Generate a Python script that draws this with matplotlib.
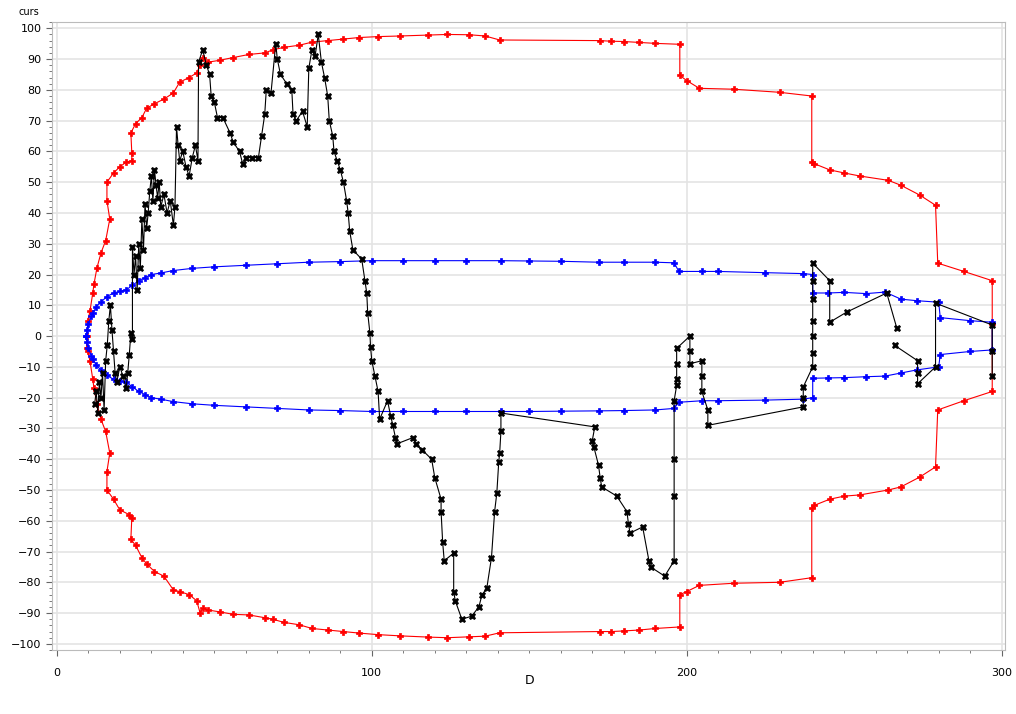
import numpy as np
import matplotlib
matplotlib.use('Agg')
import matplotlib.pyplot as plt
from matplotlib.ticker import MultipleLocator

# envolvente exterior (roja)
red_up_d = [9.5, 9.8, 10.5, 11.4, 11.8, 12.7, 14, 15.5, 16.8, 15.9, 15.9, 18, 20, 22, 23.8, 23.8, 23.5,
            25, 27, 28.5, 31, 34, 37, 39, 42, 44.4, 45.5, 46.3, 48, 51.7, 56, 61, 66, 68.6, 72, 77,
            81, 86, 91, 96, 102, 109, 118, 124, 131, 136, 140.6, 172.4, 176, 180, 185, 190, 197.8,
            197.8, 200, 204, 215, 229.5, 239.7, 239.7, 240.5, 245.4, 250, 255, 264, 268, 274, 279,
            279.7, 288, 297]
red_up_y = [-4, 5, 8, 14, 17, 22, 27, 31, 38, 44, 50, 53, 55, 56.5, 57, 59.4, 66,
            69, 71, 74, 75.5, 77, 79, 82.5, 84, 85.5, 88, 90.5, 89, 89.6, 90.5, 91.5, 92, 93, 93.8, 94.5,
            95.5, 96, 96.5, 97, 97.3, 97.5, 97.8, 98, 97.9, 97.5, 96.2, 96, 95.8, 95.7, 95.4, 95.1, 94.8,
            84.7, 83, 80.5, 80.2, 79.2, 78, 56.5, 56, 54, 53, 52, 50.6, 49, 45.8, 42.5,
            23.7, 21, 18]
red_lo_d = [297, 297, 288, 279.7, 279, 274, 268, 264, 255, 250, 245.4, 240.5, 239.7, 239.7, 229.5, 215,
            204, 200, 197.8, 197.8, 190, 185, 180, 176, 172.4, 140.6, 136, 131, 124, 118, 109, 102,
            96, 91, 86, 81, 77, 72, 68.6, 66, 61, 56, 51.7, 48, 46.3, 45.5, 44.4, 42, 39, 37, 34, 31,
            28.5, 27, 25, 23.5, 23.8, 23, 20, 18, 15.9, 15.9, 16.8, 15.5, 14, 12.7, 11.8, 11.4,
            10.5, 9.8, 9.5]
red_lo_y = [4, -18, -21, -24, -42.5, -45.8, -49, -50, -51.6, -52, -53, -55, -56, -78.5, -80, -80.3,
            -81, -83, -84, -94.5, -95, -95.5, -95.8, -96, -96, -96.4, -97.5, -97.7, -98, -97.8, -97.4, -97,
            -96.5, -96, -95.5, -95, -93.8, -93, -92, -91.5, -90.6, -90.4, -89.6, -89, -88.5, -90, -86, -84,
            -83, -82.5, -78, -76.5, -74, -72, -68, -66, -59, -58, -56.5, -53, -50, -44, -38, -31,
            -27, -22, -17, -14, -8, -5, 0]

# envolvente interior (azul)
blue_up_d = [9.4, 9.6, 10, 11, 11.5, 12.5, 14, 15.8, 18, 20, 22, 24, 26, 28, 30, 33, 37, 43, 50, 60,
             70, 80, 90, 100, 110, 120, 130, 141, 150, 160, 172, 180, 190, 196, 197.5, 205, 210, 225,
             237, 240, 240, 245, 250, 257, 263, 268, 273, 280, 280.5, 290, 297]
blue_up_y = [0, 2, 4, 6.5, 7.5, 9.5, 11, 12.8, 14, 14.5, 15, 16.5, 18, 19, 20, 20.5, 21.3, 22, 22.5, 23,
             23.5, 24, 24.2, 24.5, 24.5, 24.5, 24.5, 24.5, 24.4, 24.3, 24, 24, 24, 23.8, 21, 21, 21, 20.6,
             20.3, 20, 14, 14, 14.2, 13.8, 14.3, 12, 11.5, 11, 6, 5, 4.5]
blue_lo_d = [297, 290, 280.5, 280, 273, 268, 263, 257, 250, 245, 240, 240, 237, 225, 210, 205, 197.5,
             196, 190, 180, 172, 160, 150, 141, 130, 120, 110, 100, 90, 80, 70, 60, 50, 43, 37, 33, 30,
             28, 26, 24, 22, 20, 18, 15.8, 14, 12.5, 11.5, 11, 10, 9.6, 9.4]
blue_lo_y = [-4.5, -5, -6, -10, -11, -12, -13, -13.2, -13.5, -13.6, -13.7, -20, -20.5, -20.8, -21, -21,
             -21.5, -23.5, -24, -24.2, -24.3, -24.4, -24.5, -24.5, -24.5, -24.5, -24.5, -24.5, -24.2, -24,
             -23.5, -23, -22.5, -22, -21.3, -20.5, -20, -19, -18, -16.5, -15, -14.5, -14, -12.8, -11, -9.5,
             -7.5, -6.5, -4, -2, 0]

# serie principal (negra)
blk_d = [12, 12.5, 13, 13.5, 14, 14.5, 15, 15.5, 16, 16.5, 17, 17.5, 18, 18.5, 19, 20, 21, 22, 22.5,
         23, 23.5, 24, 24, 24.5, 25, 25.5, 26, 26.5, 27, 27.5, 28, 28.5, 29, 29.5, 30, 30.5, 31, 31.5,
         32, 32.5, 33, 34, 35, 36, 37, 37.5, 38, 38.5, 39, 40, 41, 42, 43, 44, 44.8, 45, 46.3, 47.5,
         48.5, 49, 50, 51, 52.7, 55, 56, 58, 59, 60, 62, 64, 65, 66, 66.5, 68, 69.5, 70, 71, 73, 74.6,
         75, 76, 78, 79.5, 80, 81, 82, 83, 84, 85, 86, 86.5, 87.6, 88, 89, 90, 91, 92, 92.5, 93, 94,
         96.8, 97.8, 98.4, 98.7, 99.4, 99.6, 100, 101, 102, 102.5, 105, 106, 106.7, 107.5, 108, 113,
         114, 116, 119, 120, 122, 122, 122.5, 123, 126, 126, 126.5, 128.6, 131.7, 134, 135, 136.5, 138,
         139, 139.7, 140.3, 140.6, 141, 141, 170.8, 170, 170.5, 172, 172.5, 173, 177.8, 181, 181.5, 182,
         186, 188, 188.5, 193, 196, 196, 196, 196, 196.8, 196.8, 196.8, 196.8, 201, 201, 201, 204.8,
         204.8, 204.8, 206.7, 206.7, 237, 237, 237, 240, 240, 240, 240, 240, 240, 240, 245.4, 245.4,
         250.8, 263.5, 266.7, np.nan, 266, 273.3, 273.3, 273.3, 279, 279, 297, 297, 297]
blk_y = [-22, -18, -25, -15, -20, -12, -24, -8, -3, 5, 10, 2, -5, -12, -15, -10, -13, -17, -12,
         -6, 1, -1, 29, 20, 26, 15, 30, 22, 38, 28, 43, 35, 40, 47, 52, 44, 54, 49,
         45, 50, 42, 46, 40, 44, 36, 42, 68, 62, 57, 60, 55, 52, 58, 62, 57, 89, 93, 88,
         85, 78, 76, 71, 71, 66, 63, 60, 56, 58, 58, 58, 65, 72, 80, 79, 95, 90, 85, 82, 80,
         72, 70, 73, 68, 87, 93, 91, 98, 89, 84, 78, 70, 65, 60, 57, 54, 50, 44, 40, 34, 28,
         25, 18, 14, 7.5, 1, -3.5, -8, -13, -18, -27, -21, -26, -29, -33, -35, -33,
         -35, -37, -40, -46, -53, -57, -67, -73, -70.5, -83, -86, -92, -91, -88, -84, -82, -72,
         -57, -51, -41, -38, -31, -25, -29.5, -34, -36, -42, -46, -49, -52, -57, -61, -64,
         -62, -73, -75, -78, -73, -52, -40, -21, -16, -14, -9, -4, 0, -5, -9, -8,
         -13, -18, -24, -29, -23, -20, -16.5, -10, -5.5, 0, 5, 12, 18, 23.7, 18, 4.5,
         7.8, 14, 2.6, np.nan, -3, -8, -12, -15.5, -10, 10.7, 3.6, -5, -13]

fig = plt.figure(figsize=(10.16, 7.14), dpi=100)
ax = fig.add_axes([0.051, 0.0896, 0.938, 0.8794])

ax.plot(red_up_d + red_lo_d, red_up_y + red_lo_y, color='red', lw=0.8,
        marker='P', ms=5, mew=0.5, zorder=2)
ax.plot(blue_up_d + blue_lo_d, blue_up_y + blue_lo_y, color='blue', lw=0.8,
        marker='P', ms=5, mew=0.5, zorder=3)
ax.plot(blk_d, blk_y, color='black', lw=0.8, marker='X', ms=4.5, mew=0.5, zorder=4)

ax.set_xlim(-1.6, 301)
ax.set_ylim(-102, 102)
ax.xaxis.set_major_locator(MultipleLocator(100))
ax.xaxis.set_minor_locator(MultipleLocator(10))
ax.yaxis.set_major_locator(MultipleLocator(10))
ax.yaxis.set_minor_locator(MultipleLocator(2))
ax.grid(True, which='major', color='#e4e4e4', lw=1.2, zorder=0)
ax.tick_params(which='both', labelsize=8, color='#666666', direction='out')
ax.tick_params(which='major', length=4)
ax.tick_params(which='minor', length=2)
ax.tick_params(axis='x', which='major', pad=9)
for s in ax.spines.values():
    s.set_color('#bbbbbb')

fig.text(530 / 1016, 1 - 680 / 714, 'D', fontsize=9, ha='center', va='center')
fig.text(0.018, 0.983, 'curs', fontsize=7, ha='left', va='center')

fig.savefig('out.png', dpi=100)
